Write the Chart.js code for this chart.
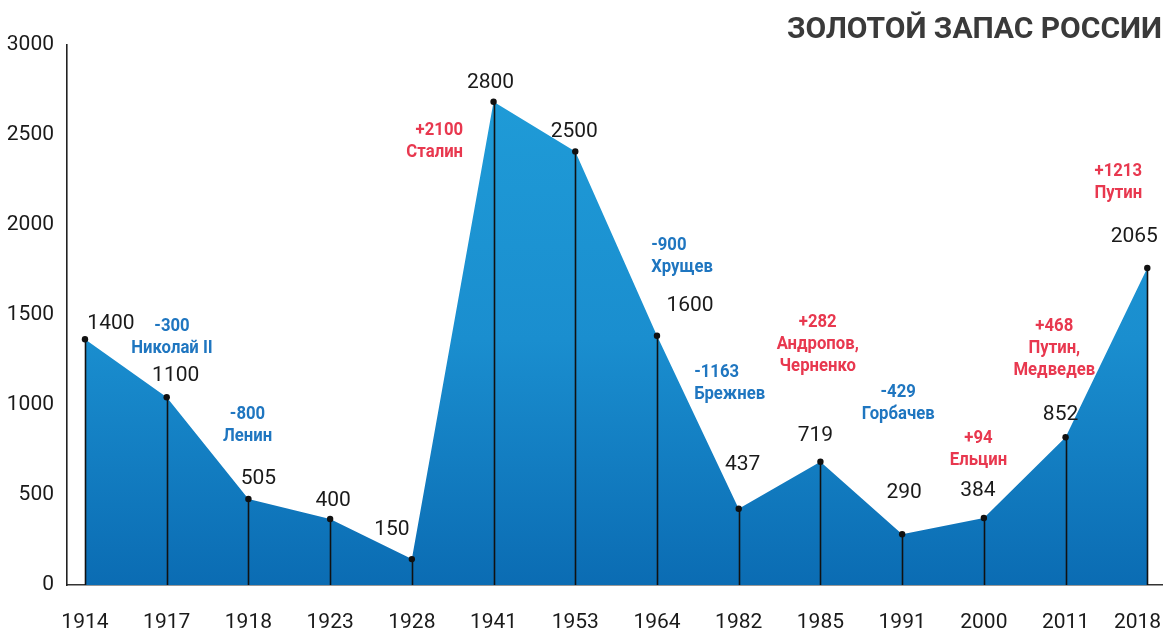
<!DOCTYPE html>
<html>
<head>
<meta charset="utf-8">
<script src="https://cdn.jsdelivr.net/npm/chart.js@4/dist/chart.umd.min.js"></script>
<style>
html,body{margin:0;padding:0;background:#fff;}
#wrap{width:1168px;height:637px;position:relative;}
</style>
</head>
<body>
<div id="wrap"><canvas id="c" width="1168" height="637"></canvas></div>
<script>
// ---- data ----
const years = ['1914','1917','1918','1923','1928','1941','1953','1964','1982','1985','1991','2000','2011','2018'];
// heights as drawn in the picture (tonnes)
const reserves = [1365, 1043, 478, 367, 144, 2685, 2409, 1385, 424, 685, 282, 372, 821, 1761];
// value labels printed above points
const valueLabels = ['1400','1100','505','400','150','2800','2500','1600','437','719','290','384','852','2065'];
const yTicks = [0, 500, 1000, 1500, 2000, 2500, 3000];
const changes = ['-300', '-800', '+2100', '-900', '-1163', '+282', '-429', '+94', '+468', '+1213'];
const leaders = [['Николай II'], ['Ленин'], ['Сталин'], ['Хрущев'], ['Брежнев'], ['Андропов,', 'Черненко'], ['Горбачев'], ['Ельцин'], ['Путин,', 'Медведев'], ['Путин']];
const title = 'ЗОЛОТОЙ ЗАПАС РОССИИ';

// ---- layout (label offsets in px, note anchors in data coordinates) ----
const labelOffsetPx = [16, 22, 20, 18, 29, 19, 20, 30, 44, 26, 41, 27, 22, 31];
const labelShiftPx  = [26, 9, 10, 3, -20, -3, -1, 33, 4, -5, 2, -6, -5, -13];
const noteAnchors = [
  {x: 1.065, y: 1439, align: 'center'},
  {x: 1.989, y: 946,  align: 'center'},
  {x: 4.627, y: 2525, align: 'right'},
  {x: 6.929, y: 1887, align: 'left'},
  {x: 7.455, y: 1181, align: 'left'},
  {x: 8.967, y: 1461, align: 'center'},
  {x: 9.952, y: 1069, align: 'center'},
  {x: 10.934, y: 817, align: 'center'},
  {x: 11.862, y: 1435, align: 'center'},
  {x: 12.645, y: 2298, align: 'center'}
];

const BLUE_TXT = '#1f76c0';
const RED_TXT = '#e8384f';
const NUM_FONT = "Roboto, sans-serif";
const NOTE_FONT = "Roboto, sans-serif";
const NOTE_SQUEEZE = 0.88;

const idx = years.map((_, i) => i);
const tickPositions = idx.map(i => (i === idx.length - 1 ? i - 0.12 : i));
const points = reserves.map((v, i) => ({x: i, y: v}));

const dropLines = {
  id: 'dropLines',
  afterDatasetDraw(chart, args) {
    if (args.index !== 0) return;
    const ctx = chart.ctx;
    const y0 = chart.scales.y.getPixelForValue(0);
    ctx.save();
    ctx.strokeStyle = '#111';
    ctx.lineWidth = 1.6;
    args.meta.data.forEach(pt => {
      ctx.beginPath();
      ctx.moveTo(Math.round(pt.x) + 0.5, pt.y);
      ctx.lineTo(Math.round(pt.x) + 0.5, y0);
      ctx.stroke();
    });
    ctx.restore();
  }
};

const textLayer = {
  id: 'textLayer',
  afterDatasetsDraw(chart) {
    const ctx = chart.ctx;
    const xs = chart.scales.x, ys = chart.scales.y;
    ctx.save();
    ctx.textBaseline = 'middle';
    // value labels
    ctx.fillStyle = '#1a1a1a';
    ctx.font = "21px " + NUM_FONT;
    ctx.textAlign = 'center';
    chart.getDatasetMeta(0).data.forEach((pt, i) => {
      ctx.fillText(valueLabels[i], pt.x + labelShiftPx[i], pt.y - labelOffsetPx[i]);
    });
    // change notes
    ctx.font = "bold 19px " + NOTE_FONT;
    changes.forEach((c, i) => {
      const a = noteAnchors[i];
      const px = xs.getPixelForValue(a.x);
      const py = ys.getPixelForValue(a.y);
      ctx.fillStyle = c.startsWith('+') ? RED_TXT : BLUE_TXT;
      ctx.textAlign = a.align;
      [c].concat(leaders[i]).forEach((line, k) => {
        ctx.save();
        ctx.translate(px, py + k * 22);
        ctx.scale(NOTE_SQUEEZE, 1);
        ctx.fillText(line, 0, 0);
        ctx.restore();
      });
    });
    ctx.restore();
  }
};

const ctx = document.getElementById('c').getContext('2d');
new Chart(ctx, {
  type: 'line',
  data: {
    datasets: [
      {
        data: points,
        parsing: false,
        fill: 'origin',
        borderWidth: 0,
        borderColor: 'rgba(0,0,0,0)',
        pointRadius: 0,
        tension: 0,
        order: 2,
        backgroundColor(c) {
          const a = c.chart.chartArea;
          if (!a) return '#1a8fd0';
          const g = c.chart.ctx.createLinearGradient(0, a.top + 50, 0, a.bottom);
          g.addColorStop(0, '#1f9bd7');
          g.addColorStop(0.5, '#1a8ecf');
          g.addColorStop(1, '#0b6cb3');
          return g;
        }
      },
      {
        data: points,
        parsing: false,
        showLine: false,
        pointRadius: 3.2,
        pointBackgroundColor: '#111',
        pointBorderWidth: 0,
        order: 1
      }
    ]
  },
  options: {
    responsive: false,
    animation: false,
    events: [],
    layout: {padding: {left: 0, right: 6, top: 0, bottom: 0}},
    plugins: {
      legend: {display: false},
      tooltip: {enabled: false},
      title: {
        display: true,
        text: title,
        align: 'end',
        color: '#3a3a3a',
        font: {family: 'Roboto', size: 30, weight: 'bold', lineHeight: 1.0},
        padding: {top: 15, bottom: 0}
      }
    },
    scales: {
      x: {
        type: 'linear',
        min: -0.22,
        max: 13.18,
        afterBuildTicks(s) { s.ticks = tickPositions.map(v => ({value: v})); },
        afterFit(s) { s.height = 52; s.paddingLeft = 0; s.paddingRight = 0; },
        grid: {display: false, drawTicks: false},
        border: {display: true, color: '#333', width: 1.6},
        ticks: {
          autoSkip: false,
          maxRotation: 0,
          padding: 25,
          color: '#1a1a1a',
          font: {family: NUM_FONT, size: 21},
          callback: v => years[Math.round(v)] || ''
        }
      },
      y: {
        min: 0,
        max: 3000,
        afterBuildTicks(s) { s.ticks = yTicks.map(v => ({value: v})); },
        afterFit(s) { s.width = 67; },
        grid: {display: false, drawTicks: false},
        border: {display: true, color: '#222', width: 1.6},
        ticks: {
          padding: 13,
          color: '#1a1a1a',
          font: {family: NUM_FONT, size: 21},
          callback: v => String(v)
        }
      }
    }
  },
  plugins: [dropLines, textLayer]
});
</script>
</body>
</html>
